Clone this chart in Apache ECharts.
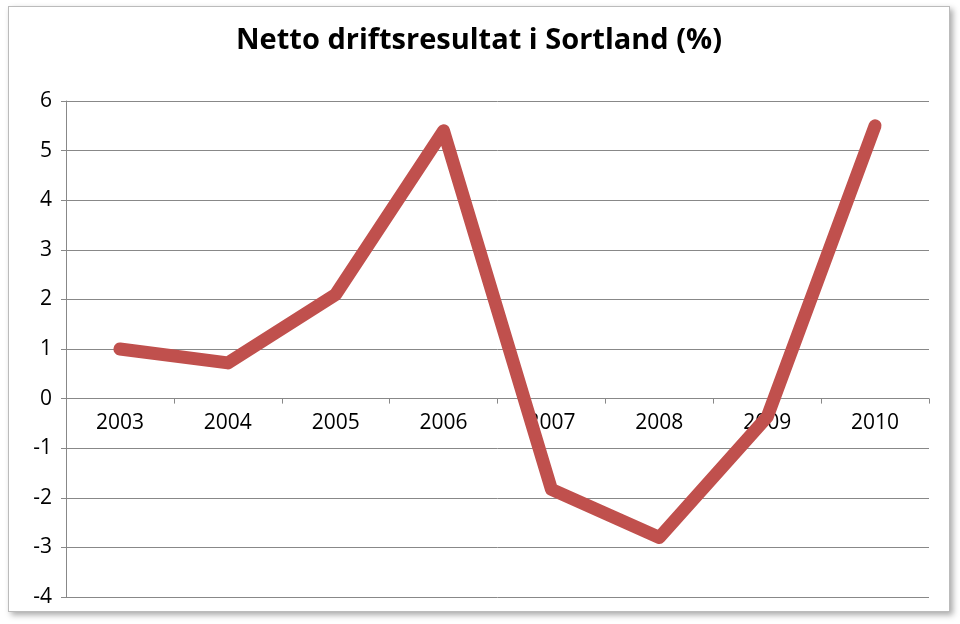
<!DOCTYPE html>
<html lang="en">
<head>
	<meta charset="UTF-8">
	<title>Netto driftsresultat i Sortland</title>
	<style>
		body { margin: 0; background: #fff; }
		#main { position: absolute; left: 8px; top: 6px; width: 940px; height: 604px;
			border: 1px solid #bbb; box-shadow: 3px 3px 6px #aaa; background: #fff; }
	</style>
</head>
<body>
	<div id="main"></div>
	<script src="https://cdn.jsdelivr.net/npm/echarts@6/dist/echarts.min.js"></script>
	<script>
		// data
		var years = ['2003', '2004', '2005', '2006', '2007', '2008', '2009', '2010'];
		var resultat = [1.0, 0.72, 2.1, 5.4, -1.83, -2.8, -0.37, 5.5];

		var gridTop = 94, gridBottom = 14, chartH = 604;
		// x axis sits on the zero line (4 of 10 units above the bottom)
		var zeroOffset = -(chartH - gridTop - gridBottom) * 0.4;

		var myChart = echarts.init(document.getElementById('main'));
		myChart.setOption({
			animation: false,
			title: {
				text: 'Netto driftsresultat i Sortland (%)',
				left: 'center', top: 14,
				textStyle: { fontFamily: 'Open Sans', fontWeight: 'bold', fontSize: 29, color: '#000' }
			},
			grid: { left: 57, right: 20, top: gridTop, bottom: gridBottom },
			xAxis: {
				type: 'category',
				data: years,
				offset: zeroOffset,
				axisLine: { onZero: false, lineStyle: { color: '#888' } },
				axisTick: { show: true, lineStyle: { color: '#888' } },
				axisLabel: { color: '#000', fontSize: 21, fontFamily: 'Open Sans', margin: 14 }
			},
			yAxis: {
				type: 'value',
				min: -4, max: 6, interval: 1,
				axisLine: { show: true, lineStyle: { color: '#888' } },
				axisTick: { show: true, lineStyle: { color: '#888' } },
				axisLabel: { color: '#000', fontSize: 21, fontFamily: 'Open Sans', margin: 14 },
				splitLine: { lineStyle: { color: '#888' } }
			},
			series: [{
				type: 'line',
				data: resultat,
				symbol: 'none',
				lineStyle: { color: '#c0504d', width: 13, cap: 'round', join: 'round' }
			}]
		});
	</script>
</body>
</html>
